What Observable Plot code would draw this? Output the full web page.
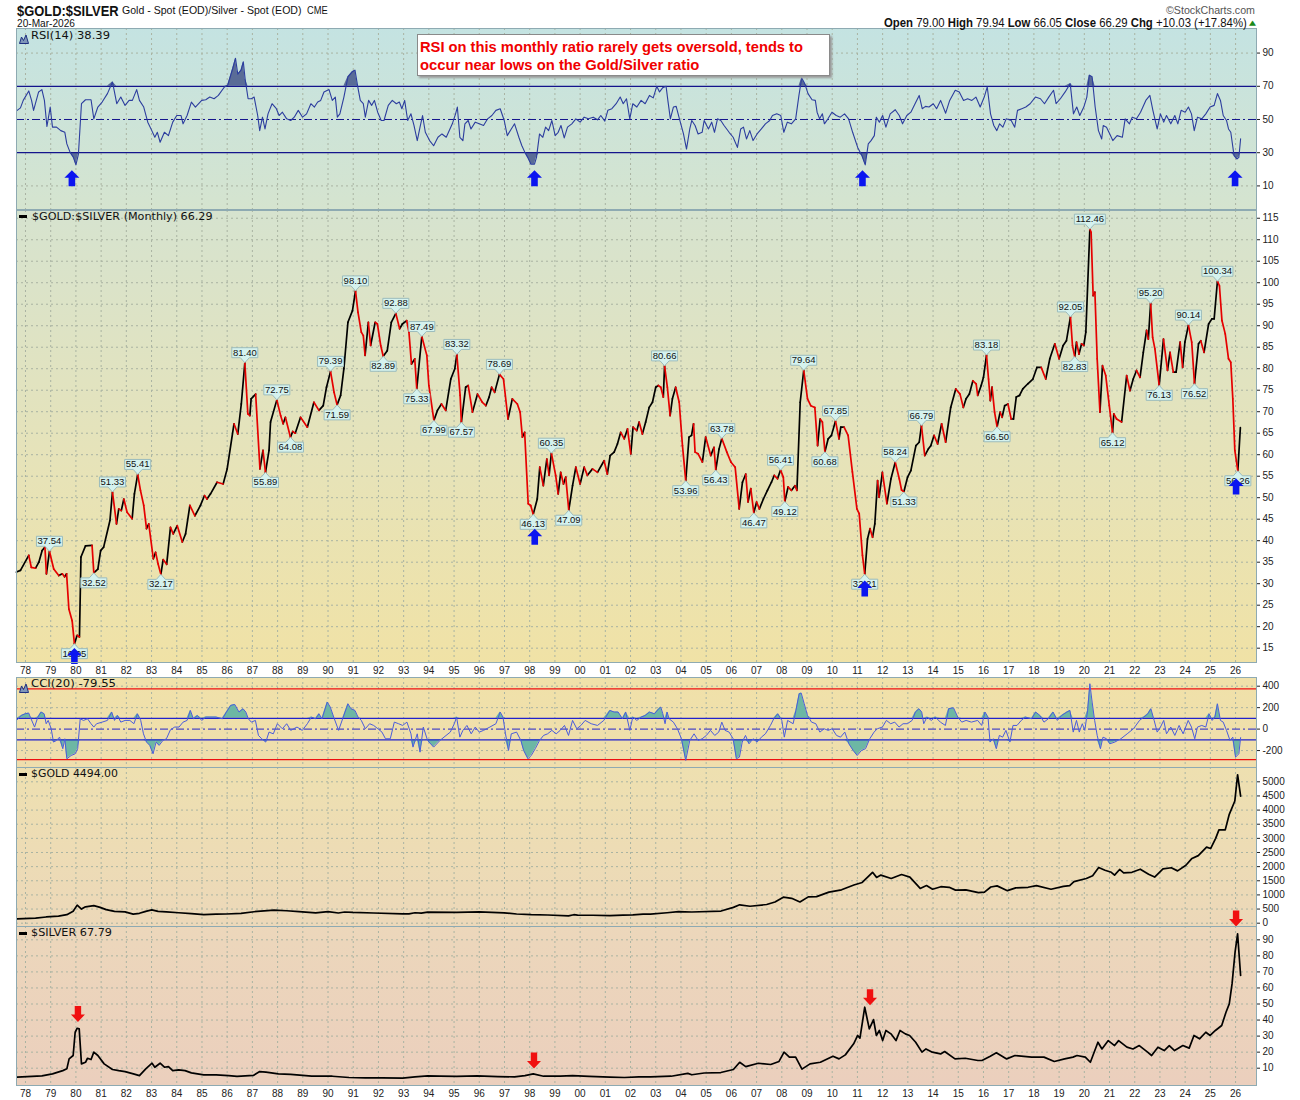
<!DOCTYPE html>
<html><head><meta charset="utf-8">
<script src="https://cdn.jsdelivr.net/npm/d3@7"></script>
<script src="https://cdn.jsdelivr.net/npm/@observablehq/plot@0.6"></script>
<style>
html,body{margin:0;padding:0;background:#fff;overflow:hidden;}
#wrap{position:relative;width:1300px;height:1100px;overflow:hidden;background:#fff;}
.bg{position:absolute;left:16px;width:1240px;}
</style></head><body><div id="wrap"></div>
<script>
// ---------------- DATA ----------------
const years = d3.range(1978, 2027);

// Gold/Silver ratio, monthly (decimal year, value)
const ratio = [[1977.64,32.7],[1977.8,33.1],[1978.13,36.6],[1978.23,33.8],[1978.4,33.6],[1978.53,35],[1978.66,37.7],[1978.77,38.5],[1978.83,32.3],[1978.95,37.54],[1979.12,33.4],[1979.32,31.9],[1979.46,32.3],[1979.55,31.6],[1979.63,32.3],[1979.72,24.1],[1979.85,21.4],[1979.94,16.05],[1980.05,18],[1980.14,17.6],[1980.2,36.2],[1980.38,38.8],[1980.64,38.9],[1980.71,32.52],[1980.87,33.4],[1980.98,37.7],[1981.1,38.5],[1981.35,44.7],[1981.45,51.33],[1981.61,43.9],[1981.7,47.4],[1981.8,47],[1981.9,49.7],[1982.03,46.6],[1982.23,45.1],[1982.32,50.9],[1982.45,55.41],[1982.56,51.7],[1982.69,48.2],[1982.8,42.8],[1982.89,43.9],[1983.07,35.8],[1983.16,37.3],[1983.26,34.6],[1983.37,32.17],[1983.46,35.6],[1983.6,34.5],[1983.75,43.1],[1983.86,41.6],[1984.02,43.5],[1984.22,39.7],[1984.35,41.6],[1984.52,48.2],[1984.72,45.8],[1984.94,48.2],[1985.1,50.5],[1985.2,49.7],[1985.34,50.9],[1985.6,53.6],[1985.84,53.2],[1986.0,56.7],[1986.27,67.2],[1986.42,64.8],[1986.56,71.8],[1986.7,81.4],[1986.82,69.5],[1986.9,69.1],[1986.95,73],[1987.13,74.1],[1987.3,56.7],[1987.42,61],[1987.52,55.89],[1987.66,61],[1987.72,67.6],[1987.97,72.75],[1988.12,69.1],[1988.22,67.2],[1988.31,68.7],[1988.51,64.08],[1988.6,65.4],[1988.7,65.0],[1988.91,68.7],[1989.18,66.4],[1989.44,72.2],[1989.64,70.3],[1989.81,71.4],[1989.94,75.7],[1990.1,79.39],[1990.24,74.5],[1990.36,71.59],[1990.5,73.8],[1990.63,80],[1990.79,90.8],[1990.97,93.5],[1991.09,98.1],[1991.19,93.1],[1991.32,88.5],[1991.4,87.7],[1991.47,83.1],[1991.6,90.8],[1991.69,85.4],[1991.87,90.8],[1991.96,90.4],[1992.09,85.4],[1992.19,82.89],[1992.35,84.2],[1992.51,90.8],[1992.69,92.88],[1992.84,89.3],[1992.95,90.4],[1993.12,91.2],[1993.21,88.5],[1993.31,81.1],[1993.44,82.3],[1993.52,75.33],[1993.72,87.49],[1993.92,83.1],[1994.0,76.1],[1994.2,67.99],[1994.34,70.3],[1994.5,71.8],[1994.67,70.3],[1994.87,77.6],[1995.03,80],[1995.11,83.32],[1995.24,73.8],[1995.29,67.57],[1995.46,75.7],[1995.56,76.1],[1995.73,69.9],[1995.93,74.1],[1996.12,72.2],[1996.26,71.4],[1996.39,73.4],[1996.49,75.7],[1996.61,74.5],[1996.8,78.69],[1996.96,77.6],[1997.14,68.3],[1997.31,73],[1997.51,71.8],[1997.62,69.9],[1997.71,64.1],[1997.8,65.2],[1997.94,48.6],[1998.04,48.2],[1998.14,46.13],[1998.3,49.7],[1998.4,57.1],[1998.54,52.8],[1998.68,59],[1998.77,55.2],[1998.86,60.35],[1999.03,55.2],[1999.13,50.9],[1999.23,55.9],[1999.34,53.2],[1999.43,54.8],[1999.55,47.09],[1999.7,52.8],[1999.83,57.1],[2000.0,53.2],[2000.16,57.1],[2000.29,55.2],[2000.49,56.7],[2000.69,55.9],[2000.95,58.6],[2001.08,55.5],[2001.19,59.8],[2001.35,60.6],[2001.48,62.5],[2001.61,65.2],[2001.75,63.7],[2001.88,66],[2002.01,60.2],[2002.1,66.4],[2002.25,65.6],[2002.34,67.6],[2002.47,64.8],[2002.6,67.6],[2002.74,71],[2002.87,72.2],[2003.0,75.7],[2003.1,76.1],[2003.2,75.7],[2003.3,73.4],[2003.35,80.66],[2003.46,75.7],[2003.57,69.1],[2003.66,73],[2003.79,75.7],[2003.93,72.2],[2004.06,62.1],[2004.19,53.96],[2004.32,64.1],[2004.42,64.5],[2004.5,67.2],[2004.56,60.6],[2004.68,60.2],[2004.85,58.3],[2004.98,64.1],[2005.18,59.8],[2005.31,61.7],[2005.38,56.43],[2005.51,61.3],[2005.62,63.78],[2005.82,60.6],[2005.98,58.3],[2006.15,57.1],[2006.31,47.4],[2006.44,53.6],[2006.57,55.5],[2006.66,49],[2006.77,52.1],[2006.89,46.47],[2007.0,49],[2007.11,47.4],[2007.27,49.7],[2007.43,51.7],[2007.59,53.6],[2007.7,55.2],[2007.83,54.4],[2007.95,56.41],[2008.06,54.8],[2008.12,49.12],[2008.25,52.5],[2008.38,51.7],[2008.52,52.8],[2008.6,51.7],[2008.73,72.2],[2008.87,79.64],[2009.02,73],[2009.15,71.4],[2009.31,71],[2009.42,62.1],[2009.52,68.3],[2009.61,67.6],[2009.71,60.68],[2009.84,63.7],[2009.97,64.5],[2010.13,67.85],[2010.27,63.7],[2010.34,66.4],[2010.47,66.4],[2010.63,64.5],[2010.8,56],[2010.98,47.4],[2011.07,46.3],[2011.2,36.6],[2011.29,32.21],[2011.4,40.4],[2011.5,42.8],[2011.6,40.8],[2011.69,43.9],[2011.8,54],[2011.86,50.1],[2011.99,55.9],[2012.17,48.6],[2012.33,54.4],[2012.5,58.24],[2012.66,54.4],[2012.75,51.8],[2012.84,51.33],[2012.99,54.8],[2013.12,56.3],[2013.32,62.1],[2013.45,62.9],[2013.54,66.79],[2013.67,59.8],[2013.81,61.3],[2013.91,62.1],[2014.04,64.5],[2014.18,62.5],[2014.34,67.2],[2014.5,62.9],[2014.7,71],[2014.9,75.3],[2015.07,74.1],[2015.2,71],[2015.31,73],[2015.44,74.1],[2015.58,77.2],[2015.71,76.5],[2015.77,73.8],[2015.91,76.1],[2016.0,78],[2016.12,83.18],[2016.2,77.6],[2016.27,72.6],[2016.34,75.7],[2016.44,69.9],[2016.54,66.5],[2016.66,69.9],[2016.74,68.7],[2016.84,71.4],[2016.97,71.8],[2017.1,68.3],[2017.19,68.3],[2017.3,73.4],[2017.43,73.8],[2017.56,75.3],[2017.76,76.5],[2017.96,77.6],[2018.12,80.3],[2018.29,80.3],[2018.47,77.6],[2018.63,82.3],[2018.83,85.8],[2019.0,82.3],[2019.16,85.4],[2019.29,86.5],[2019.45,92.05],[2019.53,85.4],[2019.62,82.83],[2019.69,86.2],[2019.79,83.4],[2019.89,85.8],[2019.98,85.4],[2020.06,88.5],[2020.22,112.46],[2020.27,111.7],[2020.35,97],[2020.42,97.8],[2020.51,82.3],[2020.62,69.9],[2020.72,80.7],[2020.85,78.4],[2020.99,71.4],[2021.12,65.12],[2021.17,69.5],[2021.28,68.3],[2021.48,67.6],[2021.68,78.4],[2021.81,74.9],[2021.94,77.6],[2022.07,79.6],[2022.21,78],[2022.34,83.8],[2022.47,88.9],[2022.54,86.9],[2022.63,95.2],[2022.71,87.3],[2022.8,84.6],[2022.97,76.13],[2023.14,86.9],[2023.3,79.6],[2023.4,83.8],[2023.53,79.2],[2023.64,79.2],[2023.8,86.2],[2023.9,80.3],[2023.99,86.2],[2024.13,90.14],[2024.26,86.2],[2024.37,76.52],[2024.53,85.8],[2024.62,86.5],[2024.75,83.8],[2024.93,90.4],[2025.06,91.6],[2025.15,91.6],[2025.28,100.34],[2025.36,99.3],[2025.46,91.2],[2025.59,88.1],[2025.72,82.3],[2025.81,81.5],[2025.89,73],[2025.97,61],[2026.09,56.26],[2026.19,66.29]];

// RSI(14) of the ratio
const rsi = [[1977.67,55.5],[1977.8,57],[1977.91,61.5],[1978.13,67.2],[1978.24,61.5],[1978.32,55.5],[1978.52,66.6],[1978.65,68],[1978.75,61.5],[1978.85,45.8],[1978.98,57.5],[1979.07,45.4],[1979.23,45.4],[1979.4,43.3],[1979.56,42.3],[1979.64,35.3],[1979.77,30.2],[1979.9,27.2],[1980.0,22.7],[1980.1,29.2],[1980.22,59.5],[1980.38,61.9],[1980.6,61.9],[1980.71,50.4],[1980.87,57.5],[1981.04,60.5],[1981.25,65.6],[1981.45,72.6],[1981.62,59.5],[1981.78,63.5],[1981.95,58.5],[1982.11,61.5],[1982.24,61.5],[1982.41,68],[1982.52,61.5],[1982.69,57.5],[1982.85,48.4],[1983.01,43.3],[1983.13,39.3],[1983.23,42.3],[1983.34,36.3],[1983.51,42.3],[1983.67,40.3],[1983.84,48.4],[1984.0,52.4],[1984.17,52.4],[1984.25,47.4],[1984.41,52.4],[1984.58,60.5],[1984.74,57.5],[1984.99,61.5],[1985.15,61.9],[1985.31,63.5],[1985.48,62.5],[1985.65,64.5],[1985.89,69.6],[1986.02,70.6],[1986.22,80.7],[1986.33,86.8],[1986.42,77.3],[1986.55,79.7],[1986.64,84.7],[1986.71,74.6],[1986.83,62.5],[1986.96,62.5],[1987.07,63.5],[1987.21,52.4],[1987.29,43.3],[1987.4,51.4],[1987.5,44.3],[1987.62,53.4],[1987.78,59.5],[1987.95,56.5],[1988.06,52.4],[1988.19,54.4],[1988.36,50.4],[1988.52,49.4],[1988.66,51.4],[1988.82,55.5],[1988.99,51.4],[1989.15,53.4],[1989.32,59.5],[1989.46,57.5],[1989.59,60.5],[1989.71,61.5],[1989.84,66.6],[1990.04,68],[1990.17,61.5],[1990.29,63.5],[1990.37,51.4],[1990.47,53.4],[1990.63,63.5],[1990.79,75.7],[1990.96,78.7],[1991.07,79.7],[1991.18,69.6],[1991.28,61.5],[1991.4,59.5],[1991.48,51.4],[1991.61,61.5],[1991.73,58.5],[1991.84,61.5],[1991.97,54.4],[1992.11,49.4],[1992.22,49.4],[1992.39,58.5],[1992.55,61.5],[1992.71,59.5],[1992.83,60.5],[1992.93,56.5],[1993.04,61.5],[1993.16,49.4],[1993.29,53.4],[1993.41,46.4],[1993.54,37.3],[1993.65,45.4],[1993.75,52.4],[1993.86,42.3],[1994.03,37.3],[1994.19,34.2],[1994.36,39.3],[1994.52,41.3],[1994.69,39.3],[1994.93,47.4],[1995.06,53.4],[1995.13,57.5],[1995.23,39.3],[1995.35,37.3],[1995.43,47.4],[1995.56,49.4],[1995.67,44.3],[1995.84,48.4],[1996.0,47.4],[1996.17,46.4],[1996.33,50.4],[1996.5,52.4],[1996.66,55.5],[1996.83,56.5],[1996.99,49.4],[1997.11,40.3],[1997.27,44.3],[1997.4,47.4],[1997.57,39.3],[1997.69,34.2],[1997.81,30.2],[1997.92,27.2],[1998.05,23.1],[1998.19,23.1],[1998.27,27.2],[1998.39,41.3],[1998.52,39.3],[1998.63,45.4],[1998.75,43.3],[1998.88,49.4],[1999.01,40.3],[1999.13,42.3],[1999.24,46.4],[1999.37,38.9],[1999.5,45.4],[1999.67,47.4],[1999.83,50.4],[2000.0,48.4],[2000.16,51.4],[2000.33,50.4],[2000.52,51.4],[2000.69,49.8],[2000.82,52.4],[2000.98,49],[2001.1,55.5],[2001.26,56.5],[2001.43,59.5],[2001.59,63.5],[2001.71,59.5],[2001.84,62.5],[2001.97,50.4],[2002.09,59.5],[2002.25,57.5],[2002.42,61.5],[2002.58,59.5],[2002.75,64.5],[2002.9,63],[2003.04,70],[2003.15,66.6],[2003.28,69.2],[2003.41,70],[2003.48,61.5],[2003.58,50.4],[2003.7,57.5],[2003.81,57.9],[2003.94,50.4],[2004.1,41.3],[2004.22,32.2],[2004.35,44.3],[2004.43,49.4],[2004.56,46.4],[2004.68,41.3],[2004.84,42.3],[2004.92,49.4],[2005.09,44.3],[2005.22,48.4],[2005.33,42.3],[2005.45,50.4],[2005.58,49.4],[2005.71,46.4],[2005.91,42.3],[2006.07,39.3],[2006.24,33.2],[2006.37,44.3],[2006.48,45.4],[2006.6,38.3],[2006.73,43.3],[2006.86,37.3],[2007.02,41.3],[2007.19,44.3],[2007.35,47.4],[2007.52,49.4],[2007.63,52.4],[2007.8,53.4],[2007.96,52.4],[2008.08,42.3],[2008.22,48.4],[2008.38,47.4],[2008.55,50.4],[2008.68,64.5],[2008.79,75],[2008.91,71.6],[2009.04,65.6],[2009.2,61.9],[2009.33,61.5],[2009.4,54.4],[2009.5,50.4],[2009.61,53.4],[2009.69,47.4],[2009.83,50.4],[2009.99,54.4],[2010.16,52.4],[2010.32,51.4],[2010.49,53.4],[2010.65,50.4],[2010.81,42.3],[2011.01,33.2],[2011.18,28.2],[2011.31,22.7],[2011.43,35.3],[2011.54,37.3],[2011.67,40.3],[2011.75,51.4],[2011.87,48.4],[2012.0,52.4],[2012.13,45.4],[2012.3,53.4],[2012.5,55.9],[2012.66,52.4],[2012.79,47.4],[2012.96,52.4],[2013.12,54.4],[2013.32,60.5],[2013.45,64.5],[2013.57,56.5],[2013.7,57.9],[2013.84,57.5],[2014.01,59.5],[2014.14,56.5],[2014.3,61.5],[2014.5,53.8],[2014.66,61.5],[2014.88,67.6],[2015.04,66.6],[2015.21,61.5],[2015.37,62.5],[2015.54,61.5],[2015.7,63.5],[2015.87,57.5],[2016.03,63.5],[2016.15,69.6],[2016.28,53.4],[2016.41,46.4],[2016.53,43.3],[2016.64,47.4],[2016.77,45.4],[2016.9,50.4],[2017.1,49.4],[2017.24,45.4],[2017.35,55.5],[2017.52,56.5],[2017.68,57.5],[2017.85,59.5],[2018.06,63.5],[2018.26,62.5],[2018.42,59.5],[2018.59,63.5],[2018.78,67.6],[2018.88,59.5],[2019.05,62.5],[2019.24,66.6],[2019.44,71.6],[2019.57,53.4],[2019.7,57.5],[2019.82,52.4],[2019.98,57.5],[2020.1,63.5],[2020.2,76.7],[2020.31,75.7],[2020.43,57.5],[2020.56,43.3],[2020.69,38.3],[2020.75,46.4],[2020.88,45.4],[2021.01,41.3],[2021.13,37.3],[2021.3,40.3],[2021.51,39.3],[2021.62,50.4],[2021.79,47.4],[2021.9,51.4],[2022.07,50.4],[2022.23,54.4],[2022.44,61.5],[2022.6,64.5],[2022.72,55.5],[2022.89,44.3],[2023.02,53.4],[2023.15,48.4],[2023.26,52.4],[2023.43,47.4],[2023.59,52.4],[2023.71,47.4],[2023.84,55.5],[2024.0,54.4],[2024.13,57.5],[2024.25,53.4],[2024.36,43.3],[2024.49,51.4],[2024.66,50.4],[2024.82,53.4],[2024.99,57.5],[2025.15,58.5],[2025.28,65.6],[2025.4,61.5],[2025.51,52.4],[2025.64,49.4],[2025.72,44.3],[2025.81,42.3],[2025.94,28.2],[2026.05,26.2],[2026.13,27.2],[2026.2,38.39]];

// CCI(20) of the ratio
const cci = [[1977.67,87],[1977.83,127],[1977.99,143],[1978.13,149],[1978.19,112],[1978.36,19],[1978.49,112],[1978.62,159],[1978.74,143],[1978.82,50],[1978.9,81],[1979.02,3],[1979.11,-121],[1979.23,-106],[1979.35,-75],[1979.48,-183],[1979.56,-90],[1979.64,-277],[1979.81,-246],[1979.97,-230],[1980.07,-183],[1980.17,96],[1980.3,81],[1980.46,96],[1980.6,50],[1980.71,19],[1980.82,50],[1981.04,65],[1981.25,81],[1981.42,159],[1981.53,81],[1981.65,127],[1981.78,65],[1981.95,81],[1982.14,81],[1982.3,50],[1982.44,143],[1982.57,81],[1982.68,-44],[1982.8,-121],[1982.93,-152],[1983.06,-230],[1983.18,-121],[1983.3,-152],[1983.45,-106],[1983.59,-90],[1983.75,-6],[1983.92,19],[1984.09,19],[1984.25,65],[1984.41,81],[1984.54,174],[1984.66,96],[1984.82,127],[1984.99,81],[1985.15,112],[1985.31,112],[1985.56,112],[1985.81,96],[1985.97,159],[1986.14,221],[1986.3,230],[1986.47,159],[1986.63,190],[1986.74,159],[1986.84,96],[1986.96,65],[1987.12,81],[1987.24,-59],[1987.37,-90],[1987.53,-121],[1987.66,-28],[1987.83,-44],[1987.99,50],[1988.19,3],[1988.36,50],[1988.52,-12],[1988.77,19],[1988.98,-12],[1989.18,50],[1989.34,112],[1989.51,96],[1989.64,143],[1989.76,96],[1989.97,252],[1990.09,205],[1990.25,96],[1990.42,-12],[1990.58,96],[1990.79,236],[1990.91,190],[1991.07,174],[1991.19,112],[1991.32,81],[1991.48,3],[1991.65,50],[1991.81,34],[1991.98,3],[1992.14,-28],[1992.28,-90],[1992.47,-90],[1992.63,65],[1992.8,50],[1992.96,34],[1993.13,65],[1993.29,-44],[1993.37,-168],[1993.54,-44],[1993.65,-215],[1993.78,19],[1993.95,-106],[1994.19,-168],[1994.44,-106],[1994.6,-75],[1994.85,-28],[1995.01,50],[1995.1,112],[1995.23,-75],[1995.35,-12],[1995.51,34],[1995.68,-44],[1995.84,19],[1996.0,-28],[1996.17,-12],[1996.42,19],[1996.66,50],[1996.83,159],[1996.94,112],[1997.04,-44],[1997.16,-199],[1997.27,-44],[1997.48,-28],[1997.65,-106],[1997.76,-199],[1997.93,-277],[1998.06,-246],[1998.22,-183],[1998.39,-106],[1998.55,-59],[1998.71,-44],[1998.88,-12],[1999.05,-44],[1999.21,-12],[1999.38,34],[1999.54,-59],[1999.7,81],[1999.87,3],[2000.03,34],[2000.2,81],[2000.44,50],[2000.69,34],[2000.94,81],[2001.18,174],[2001.35,159],[2001.51,159],[2001.68,96],[2001.81,159],[2001.97,-12],[2002.09,112],[2002.25,81],[2002.42,112],[2002.58,127],[2002.75,159],[2002.95,143],[2003.12,190],[2003.2,205],[2003.28,143],[2003.37,50],[2003.45,159],[2003.53,96],[2003.7,65],[2003.86,3],[2004.02,-90],[2004.19,-292],[2004.35,-106],[2004.52,-44],[2004.68,-106],[2004.84,-90],[2005.01,-59],[2005.17,-12],[2005.34,-59],[2005.5,-28],[2005.62,65],[2005.75,-12],[2005.91,-28],[2006.07,-90],[2006.2,-277],[2006.32,-261],[2006.43,-121],[2006.56,-59],[2006.7,-137],[2006.86,-90],[2007.02,-121],[2007.19,-75],[2007.35,-44],[2007.55,34],[2007.68,96],[2007.84,143],[2008.0,81],[2008.1,-75],[2008.23,81],[2008.45,50],[2008.56,174],[2008.69,330],[2008.77,336],[2008.89,236],[2009.02,127],[2009.18,65],[2009.35,50],[2009.51,-28],[2009.68,3],[2009.84,-12],[2010.0,3],[2010.17,-59],[2010.33,-75],[2010.5,-28],[2010.66,-137],[2010.83,-199],[2010.99,-246],[2011.16,-199],[2011.32,-183],[2011.49,-90],[2011.66,-28],[2011.79,3],[2011.99,19],[2012.15,81],[2012.32,50],[2012.48,65],[2012.65,19],[2012.81,50],[2012.98,50],[2013.17,81],[2013.3,159],[2013.44,190],[2013.55,159],[2013.63,50],[2013.76,112],[2013.93,81],[2014.09,112],[2014.29,65],[2014.49,34],[2014.62,190],[2014.81,199],[2014.98,112],[2015.14,65],[2015.31,81],[2015.52,65],[2015.77,81],[2015.93,34],[2016.06,159],[2016.18,112],[2016.26,-121],[2016.39,-90],[2016.51,-183],[2016.63,-59],[2016.76,-75],[2016.89,-12],[2017.05,-121],[2017.17,34],[2017.33,34],[2017.5,81],[2017.66,112],[2017.91,96],[2018.07,159],[2018.24,127],[2018.4,65],[2018.57,96],[2018.76,159],[2018.93,81],[2019.1,127],[2019.31,159],[2019.43,174],[2019.56,-28],[2019.69,81],[2019.8,-28],[2019.92,50],[2020.02,-12],[2020.13,174],[2020.22,423],[2020.31,252],[2020.41,81],[2020.51,-59],[2020.64,-183],[2020.74,-75],[2020.88,-90],[2021.01,-137],[2021.21,-121],[2021.45,-90],[2021.7,-44],[2021.95,3],[2022.19,81],[2022.36,112],[2022.52,143],[2022.64,190],[2022.77,81],[2022.89,-28],[2023.02,19],[2023.15,81],[2023.26,-44],[2023.43,19],[2023.59,-59],[2023.76,34],[2023.92,-44],[2024.12,81],[2024.25,19],[2024.38,-90],[2024.49,19],[2024.66,34],[2024.82,19],[2024.95,143],[2025.07,81],[2025.18,112],[2025.28,236],[2025.4,81],[2025.51,65],[2025.64,-12],[2025.78,-106],[2025.89,-75],[2026.0,-261],[2026.13,-230],[2026.2,-79.55]];

// $GOLD monthly
const gold = [[1977.67,150],[1978.4,180],[1978.82,220],[1979.31,250],[1979.64,300],[1979.89,420],[1980.05,640],[1980.22,500],[1980.38,580],[1980.71,620],[1980.96,560],[1981.2,480],[1981.53,420],[1981.95,400],[1982.27,320],[1982.52,350],[1982.77,420],[1983.01,470],[1983.26,420],[1983.59,400],[1984.08,370],[1984.58,340],[1985.07,300],[1985.56,320],[1985.97,325],[1986.55,350],[1987.2,420],[1987.86,460],[1988.36,440],[1988.85,410],[1989.51,365],[1990.0,410],[1990.41,360],[1990.66,395],[1990.99,380],[1991.81,360],[1992.96,330],[1993.21,330],[1993.45,370],[1993.7,355],[1993.95,390],[1995.1,385],[1996.0,400],[1996.99,365],[1997.48,325],[1998.06,300],[1998.72,290],[1999.54,260],[1999.75,300],[1999.9,285],[2000.5,280],[2001.18,265],[2001.7,285],[2002.09,295],[2002.5,320],[2002.79,320],[2003.45,370],[2003.9,410],[2004.43,395],[2005.59,430],[2006.08,560],[2006.33,650],[2006.74,600],[2007.4,660],[2007.73,750],[2008.06,920],[2008.39,880],[2008.72,750],[2009.05,930],[2009.38,940],[2009.87,1100],[2010.37,1180],[2010.86,1350],[2011.19,1440],[2011.6,1800],[2011.76,1620],[2011.93,1700],[2012.34,1580],[2012.75,1720],[2013.08,1630],[2013.49,1230],[2013.74,1330],[2013.98,1200],[2014.31,1290],[2014.64,1270],[2014.89,1170],[2015.3,1180],[2015.8,1080],[2016.04,1100],[2016.29,1280],[2016.54,1320],[2016.95,1150],[2017.28,1250],[2017.77,1270],[2018.1,1330],[2018.68,1200],[2019.17,1300],[2019.42,1330],[2019.59,1470],[2020.08,1580],[2020.33,1680],[2020.57,1970],[2020.82,1870],[2021.07,1800],[2021.2,1700],[2021.4,1900],[2021.56,1780],[2021.89,1800],[2022.22,1910],[2022.55,1730],[2022.79,1630],[2023.12,1920],[2023.45,1960],[2023.7,1850],[2024.03,2050],[2024.27,2290],[2024.52,2390],[2024.85,2690],[2025.01,2640],[2025.21,3000],[2025.34,3300],[2025.59,3300],[2025.75,3850],[2025.97,4320],[2026.08,5250],[2026.2,4494]];

// $SILVER monthly
const silver = [[1977.67,4.5],[1978.65,5.2],[1979.07,6.5],[1979.48,8.5],[1979.64,9.6],[1979.73,15.8],[1979.89,17.9],[1979.97,32.4],[1980.05,34.9],[1980.13,34.5],[1980.22,12.7],[1980.38,13.7],[1980.46,16.2],[1980.6,15.4],[1980.71,20],[1980.87,17.9],[1981.12,12.7],[1981.45,9.2],[1981.7,8.5],[1981.95,7.9],[1982.28,6.5],[1982.52,5.4],[1982.77,9.6],[1983.02,13.1],[1983.13,10.6],[1983.34,13.1],[1983.51,10.6],[1983.67,11],[1983.84,8.5],[1984.08,9],[1984.33,8.5],[1984.58,7.1],[1985.07,5.8],[1985.56,5.8],[1986.06,5.4],[1986.39,4.9],[1987.04,5.5],[1987.29,7.9],[1987.54,7.5],[1988.03,6.5],[1988.52,6.2],[1989.35,5.1],[1990.17,5],[1990.83,4.2],[1991.48,4],[1992.14,4],[1992.96,3.8],[1993.45,4.6],[1993.95,5.2],[1994.44,5.1],[1995.1,4.9],[1995.92,5.2],[1996.74,4.8],[1997.4,4.6],[1997.81,5.4],[1998.14,6.5],[1998.55,5],[1999.21,5.1],[1999.7,5.4],[2000.36,4.9],[2001.18,4.5],[2001.76,4.2],[2002.33,4.6],[2002.79,4.6],[2003.61,5],[2004.27,6.8],[2004.43,5.9],[2004.92,7],[2005.58,7.3],[2006.08,9.2],[2006.33,13.7],[2006.57,11],[2007.07,13.1],[2007.56,12.3],[2007.89,14.2],[2008.09,20],[2008.3,16.9],[2008.55,16.9],[2008.8,9.4],[2009.12,12.7],[2009.53,13.7],[2010.03,17.5],[2010.27,15.8],[2010.52,18.3],[2010.85,25.2],[2011.01,30.4],[2011.1,28.7],[2011.29,48],[2011.47,34.5],[2011.64,40.3],[2011.75,30.4],[2011.87,33.5],[2012.0,27.2],[2012.13,33.5],[2012.33,31.4],[2012.53,27.2],[2012.69,33.5],[2012.9,31.4],[2013.07,30.4],[2013.31,26.2],[2013.56,20],[2013.72,22],[2013.97,20],[2014.3,18.9],[2014.46,20.4],[2014.87,15.8],[2015.28,16.2],[2015.78,14.8],[2015.94,14.8],[2016.27,17.5],[2016.51,19.6],[2016.92,15.8],[2017.25,17.9],[2017.91,16.9],[2018.4,16.9],[2018.81,14.2],[2019.22,15.8],[2019.55,16.9],[2019.71,17.9],[2020.04,16.9],[2020.24,13.7],[2020.54,26.2],[2020.7,22],[2020.95,27.2],[2021.2,24.1],[2021.36,27.2],[2021.69,23.1],[2021.93,22],[2022.18,24.1],[2022.51,20],[2022.67,17.9],[2022.92,23.1],[2023.17,21],[2023.37,24.1],[2023.58,21],[2023.91,24.1],[2024.16,22.5],[2024.35,30.4],[2024.57,28.3],[2024.82,32.4],[2024.99,30.4],[2025.2,33.5],[2025.45,36.6],[2025.62,44.9],[2025.75,50.1],[2025.86,62.5],[2025.98,82.3],[2026.08,93.7],[2026.2,67.79]];

// price labels on the ratio: [year, value, text, "a" above peak | "b" below trough]
const ratioLabels = [[1978.95,37.54,"37.54","a"],[1979.94,16.05,"16.05","b"],[1980.71,32.52,"32.52","b"],[1981.45,51.33,"51.33","a"],[1982.45,55.41,"55.41","a"],[1983.37,32.17,"32.17","b"],[1986.7,81.4,"81.40","a"],[1987.52,55.89,"55.89","b"],[1987.97,72.75,"72.75","a"],[1988.51,64.08,"64.08","b"],[1990.1,79.39,"79.39","a"],[1990.36,71.59,"71.59","b"],[1991.09,98.1,"98.10","a"],[1992.19,82.89,"82.89","b"],[1992.69,92.88,"92.88","a"],[1993.52,75.33,"75.33","b"],[1993.72,87.49,"87.49","a"],[1994.2,67.99,"67.99","b"],[1995.11,83.32,"83.32","a"],[1995.29,67.57,"67.57","b"],[1996.8,78.69,"78.69","a"],[1998.14,46.13,"46.13","b"],[1998.86,60.35,"60.35","a"],[1999.55,47.09,"47.09","b"],[2003.35,80.66,"80.66","a"],[2004.19,53.96,"53.96","b"],[2005.38,56.43,"56.43","b"],[2005.62,63.78,"63.78","a"],[2006.89,46.47,"46.47","b"],[2007.95,56.41,"56.41","a"],[2008.12,49.12,"49.12","b"],[2008.87,79.64,"79.64","a"],[2009.71,60.68,"60.68","b"],[2010.13,67.85,"67.85","a"],[2011.29,32.21,"32.21","b"],[2012.5,58.24,"58.24","a"],[2012.84,51.33,"51.33","b"],[2013.54,66.79,"66.79","a"],[2016.12,83.18,"83.18","a"],[2016.54,66.5,"66.50","b"],[2019.45,92.05,"92.05","a"],[2019.62,82.83,"82.83","b"],[2020.22,112.46,"112.46","a"],[2021.12,65.12,"65.12","b"],[2022.63,95.2,"95.20","a"],[2022.97,76.13,"76.13","b"],[2024.13,90.14,"90.14","a"],[2024.37,76.52,"76.52","b"],[2025.28,100.34,"100.34","a"],[2026.09,56.26,"56.26","b"]];

// annotation arrows [year, value on that panel's scale]
const rsiArrows = [[1979.84,14.6],[1998.19,14.6],[2011.2,14.6],[2025.98,14.6]];
const ratioArrows = [[1979.94,13.2],[1998.2,40.9],[2011.29,28.9],[2026.02,52.6]];
const silverArrows = [[1980.08,43.8],[1998.17,14.8],[2011.5,54.2],[2026.02,103.3]];

// axis ticks and reference levels
const rsiTicks = [10,30,50,70,90];
const rsiLevels = [30,70];
const ratioTicks = d3.range(15, 116, 5);
const cciTicks = [-200,0,200,400];
const cciBands = [100,-100];
const cciExtremes = [375,-285];
const goldTicks = d3.range(0, 5001, 500);
const silverTicks = d3.range(10, 91, 10);

// ---------------- DRAWING ----------------
const wrap = document.getElementById("wrap");
const W = 1300, ML = 16, MR = 44;
const xDomain = [1977.643, 2026.83];
const yy = d => String(d % 100).padStart(2, "0");
const gridStroke = "#a9b3a2";
const frameStroke = "#8eaab2";
const X = d => d[0], Y = d => d[1];

function bg(top, h, grad) {
  const d = document.createElement("div");
  d.className = "bg"; d.style.top = top + "px"; d.style.height = h + "px"; d.style.background = grad;
  wrap.append(d);
}
bg(28, 181, "linear-gradient(#c4e3e2,#d5e4cf)");
bg(210, 452, "linear-gradient(#d6e3cf,#e6e3b9 55%,#f0e2a6)");
bg(677, 90, "linear-gradient(#f0e1a9,#efdead)");
bg(767, 159, "linear-gradient(#eee0b0,#ecd8b9)");
bg(926, 159, "linear-gradient(#ecd7bb,#ebcfbd)");

function panel(top, h, yOpts, marks, xAxis) {
  const svg = Plot.plot({
    width: W, height: h + (xAxis ? 15 : 0),
    marginLeft: ML, marginRight: MR, marginTop: 0, marginBottom: xAxis ? 15 : 0,
    style: "background:transparent;overflow:visible;font-family:'Liberation Sans',Arial,sans-serif;font-size:10px;color:#222;position:absolute;left:0;top:" + top + "px;max-width:none;",
    x: {domain: xDomain, axis: xAxis ? "bottom" : null, ticks: years, tickFormat: yy, tickSize: 0, tickPadding: 4, label: null},
    y: {axis: "right", tickSize: 3, tickPadding: 3, label: null, tickFormat: d => String(d), ...yOpts},
    marks
  });
  wrap.append(svg);
}
const grid = yt => [
  Plot.ruleX(years, {stroke: gridStroke, strokeDasharray: "2,3"}),
  Plot.ruleY(yt, {stroke: gridStroke, strokeDasharray: "2,3"})
];

const arrowUp = {draw(c) {
  c.moveTo(0,-8); c.lineTo(7.5,-0.5); c.lineTo(3.3,-0.5); c.lineTo(3.3,8);
  c.lineTo(-3.3,8); c.lineTo(-3.3,-0.5); c.lineTo(-7.5,-0.5); c.closePath();
}};
const arrowDown = {draw(c) {
  c.moveTo(0,8); c.lineTo(7,0.5); c.lineTo(3.2,0.5); c.lineTo(3.2,-8);
  c.lineTo(-3.2,-8); c.lineTo(-3.2,0.5); c.lineTo(-7,0.5); c.closePath();
}};
function callout(w, above) {
  const s = above ? -1 : 1, h = w / 2;
  return {draw(c) {
    c.moveTo(0,0); c.lineTo(4.5,5*s); c.lineTo(h,5*s); c.lineTo(h,15*s);
    c.lineTo(-h,15*s); c.lineTo(-h,5*s); c.lineTo(-4.5,5*s); c.closePath();
  }};
}

// RSI panel
panel(28, 181, {domain: [-4.2, 104.8], ticks: rsiTicks}, [
  ...grid([10, 90]),
  Plot.areaY(rsi, {x: X, y1: 70, y2: d => Math.max(70, d[1]), fill: "#5a6c97"}),
  Plot.areaY(rsi, {x: X, y1: d => Math.min(30, d[1]), y2: 30, fill: "#5a6c97"}),
  Plot.ruleY(rsiLevels, {stroke: "#14148c", strokeWidth: 1.2}),
  Plot.ruleY([50], {stroke: "#14148c", strokeWidth: 1, strokeDasharray: "8,3,2,3"}),
  Plot.line(rsi, {x: X, y: Y, stroke: "#2c3d9e", strokeWidth: 1.1}),
  Plot.dot(rsiArrows, {x: X, y: Y, symbol: arrowUp, r: 8, fill: "#0a14f0", stroke: "none"}),
  Plot.frame({stroke: frameStroke})
]);

// Ratio panel
const segs = d3.pairs(ratio).map(([a, b]) => ({x1: a[0], y1: a[1], x2: b[0], y2: b[1], up: b[1] >= a[1]}));
const labs = ratioLabels.map(([x, y, t, p]) => ({x, y, t, above: p === "a"}));
const calloutMarks = [];
for (const above of [true, false]) for (const wide of [false, true]) {
  calloutMarks.push(Plot.dot(labs.filter(d => d.above === above && (d.t.length > 5) === wide),
    {x: "x", y: "y", symbol: callout(wide ? 31 : 26, above), r: 5, fill: "#d5f2ee", stroke: "#9cbcbc", strokeWidth: 1}));
}
panel(210, 452, {domain: [11.67, 116.8], ticks: ratioTicks}, [
  ...grid(ratioTicks),
  Plot.link(segs.filter(d => d.up), {x1: "x1", y1: "y1", x2: "x2", y2: "y2", stroke: "#000", strokeWidth: 1.7, strokeLinecap: "round"}),
  Plot.link(segs.filter(d => !d.up), {x1: "x1", y1: "y1", x2: "x2", y2: "y2", stroke: "#e60000", strokeWidth: 1.7, strokeLinecap: "round"}),
  ...calloutMarks,
  Plot.text(labs.filter(d => d.above), {x: "x", y: "y", text: "t", dy: -10, fontSize: 9.5, fill: "#111", fontFamily: "'Liberation Sans',Arial,sans-serif"}),
  Plot.text(labs.filter(d => !d.above), {x: "x", y: "y", text: "t", dy: 10, fontSize: 9.5, fill: "#111", fontFamily: "'Liberation Sans',Arial,sans-serif"}),
  Plot.dot(ratioArrows, {x: X, y: Y, symbol: arrowUp, r: 8, fill: "#0a14f0", stroke: "none"}),
  Plot.frame({stroke: frameStroke})
], true);

// CCI panel
panel(677, 90, {domain: [-358, 481], ticks: cciTicks}, [
  ...grid([-200, 200, 400]),
  Plot.areaY(cci, {x: X, y1: 100, y2: d => Math.max(100, d[1]), fill: "#6db7a4"}),
  Plot.areaY(cci, {x: X, y1: d => Math.min(-100, d[1]), y2: -100, fill: "#6db7a4"}),
  Plot.ruleY(cciExtremes, {stroke: "#ee1010", strokeWidth: 1.2}),
  Plot.ruleY(cciBands, {stroke: "#2222cc", strokeWidth: 1.2}),
  Plot.ruleY([0], {stroke: "#2222cc", strokeDasharray: "8,3,2,3"}),
  Plot.line(cci, {x: X, y: Y, stroke: "#4a5cdc", strokeWidth: 1}),
  Plot.frame({stroke: frameStroke})
]);

// Gold panel
panel(767, 159, {domain: [-117, 5506], ticks: goldTicks}, [
  ...grid(goldTicks),
  Plot.line(gold, {x: X, y: Y, stroke: "#000", strokeWidth: 1.7}),
  Plot.frame({stroke: frameStroke})
]);

// Silver panel
panel(926, 159, {domain: [-0.78, 98.3], ticks: silverTicks}, [
  ...grid(silverTicks),
  Plot.line(silver, {x: X, y: Y, stroke: "#000", strokeWidth: 1.7}),
  Plot.dot(silverArrows, {x: X, y: Y, symbol: arrowDown, r: 8, fill: "#f01010", stroke: "none"}),
  Plot.frame({stroke: frameStroke})
], true);

// ---------------- TEXT ----------------
function label(content, x, y, w, css, html) {
  const d = document.createElement("div");
  d.style.cssText = "position:absolute;white-space:nowrap;line-height:1;transform-origin:0 50%;left:" + x + "px;top:" + y + "px;" + (css || "");
  if (html) d.innerHTML = content; else d.textContent = content;
  wrap.append(d);
  const k = w ? w / d.getBoundingClientRect().width : 1;
  d.style.transform = "translateY(-50%) scaleX(" + k + ")";
  return d;
}
const sans = "font-family:'Liberation Sans',Arial,sans-serif;";
const dv = "font-family:'DejaVu Sans',Verdana,sans-serif;font-size:10px;color:#111;";

label("$GOLD:$SILVER", 16.6, 9.5, 101.6, sans + "font-size:15px;font-weight:bold;color:#111;");
label("Gold - Spot (EOD)/Silver - Spot (EOD)", 122.3, 10.5, 179.5, sans + "font-size:11.5px;color:#111;");
label("CME", 306.8, 10.8, 20.7, sans + "font-size:10px;color:#111;");
label("20-Mar-2026", 16.6, 22.5, 58, sans + "font-size:11px;color:#111;");
label("©StockCharts.com", 1166, 9.7, 89, sans + "font-size:11px;color:#555;");
label("<b>Open</b> 79.00 <b>High</b> 79.94 <b>Low</b> 66.05 <b>Close</b> 66.29 <b>Chg</b> +10.03 (+17.84%)", 884.2, 22.5, 362.8, sans + "font-size:12px;color:#111;", true);
label("▲", 1249, 23, 7, "font-family:'DejaVu Sans',sans-serif;font-size:7px;color:#1a8a1a;");

// annotation box
const box = document.createElement("div");
box.style.cssText = "position:absolute;left:416.7px;top:34.3px;width:411px;height:40px;background:#fff;border:1px solid #8a8a8a;box-shadow:2px 2px 2px #9a9a9a;";
wrap.append(box);
const red = sans + "font-size:15px;font-weight:bold;color:#f00000;";
label("RSI on this monthly ratio rarely gets oversold, tends to", 419.6, 46, 383, red);
label("occur near lows on the Gold/Silver ratio", 419.6, 64, 279.4, red);

// panel titles
function icon(x, y) {
  const s = document.createElement("div");
  s.style.cssText = "position:absolute;left:" + x + "px;top:" + (y - 5) + "px;width:10px;height:10px;";
  s.innerHTML = '<svg width="10" height="10" viewBox="0 0 10 10"><path d="M0.5 9.5 L2.5 3 L4.5 6.5 L7 1 L9.5 9.5 Z" fill="#7f95b8" stroke="#1e2f80" stroke-width="1"/></svg>';
  wrap.append(s);
}
function bar(x, y) {
  const s = document.createElement("div");
  s.style.cssText = "position:absolute;left:" + x + "px;top:" + (y - 1.5) + "px;width:8px;height:3px;background:#000;";
  wrap.append(s);
}
icon(19, 35); label("RSI(14) 38.39", 31, 35.5, 79, dv);
bar(19.3, 216.7); label("$GOLD:$SILVER (Monthly) 66.29", 31.7, 216.7, 180.6, dv);
icon(19, 684); label("CCI(20) -79.55", 31.1, 684, 85, dv);
bar(19, 774.3); label("$GOLD 4494.00", 31.1, 774.3, 87, dv);
bar(19, 933); label("$SILVER 67.79", 31.1, 933, 81, dv);
</script></body></html>
